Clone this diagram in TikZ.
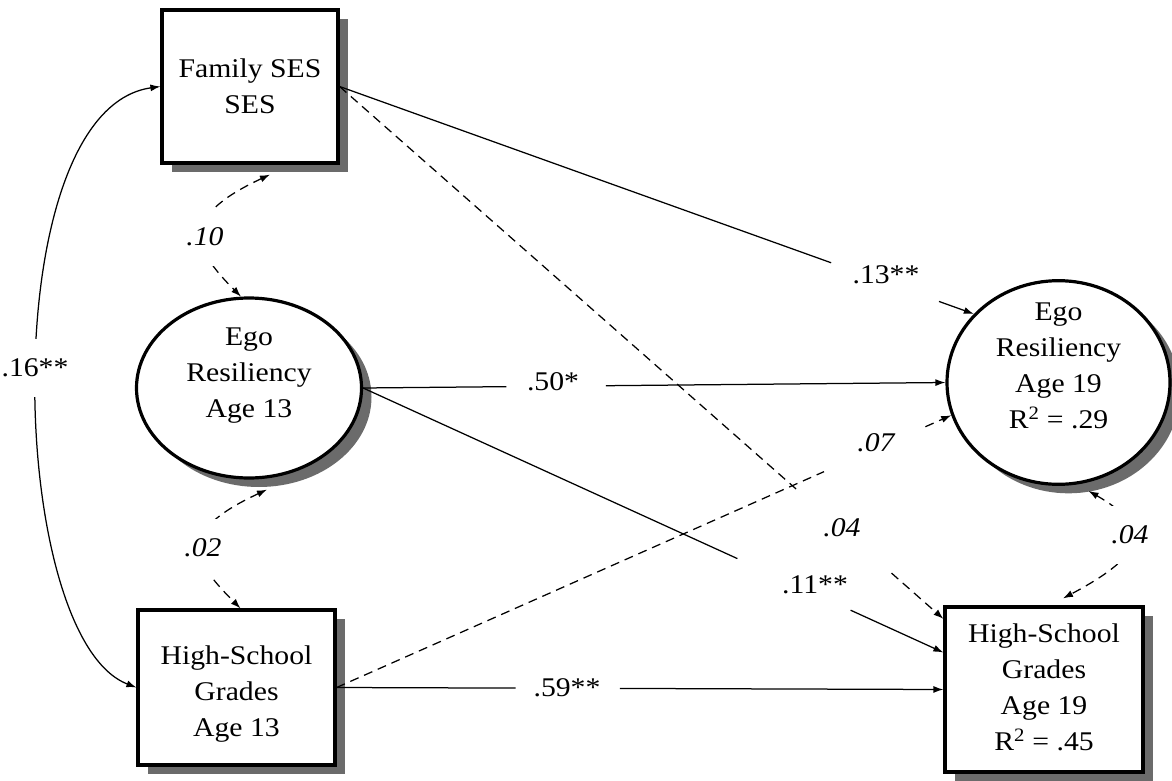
\documentclass[tikz,border=0pt]{standalone}
\usepackage{fontspec}
\setmainfont{Liberation Serif}[FakeStretch=1.1]
\usetikzlibrary{shapes.geometric,shadows,calc,arrows.meta}
\newcommand{\liftbox}[2]{\raisebox{#1}[\height][\depth]{\begin{tabular}{@{}c@{}}#2\end{tabular}}}
\begin{document}
\begin{tikzpicture}[x=1pt,y=-1pt,
  txt/.style={font=\fontsize{27}{36}\selectfont},
  itxt/.style={font=\fontsize{27}{36}\selectfont\itshape},
  shade/.style={drop shadow={shadow xshift=10pt,shadow yshift=-9pt,fill=black!58,opacity=1}},
  box/.style={txt,draw,rectangle,line width=3.2pt,fill=white,shade,inner sep=0pt},
  oval/.style={txt,draw,ellipse,line width=3.2pt,fill=white,shade,inner sep=0pt},
  conn/.style={line width=1.25pt},
  tipend/.style={-{Latex[length=10pt,width=7pt]}},
  tipboth/.style={{Latex[length=10pt,width=7pt]}-{Latex[length=10pt,width=7pt]}},
  dsh/.style={dash pattern=on 9pt off 6pt},
  gaplab/.style={fill=white,inner xsep=3pt,inner ysep=20pt}
]
\useasboundingbox (0,0) rectangle (1172,781);

% nodes
\node[box,minimum width=176pt,minimum height=153pt] (fam) at (250,86.5) {\liftbox{-2pt}{Family SES\\SES}};
\node[oval,minimum width=225pt,minimum height=180pt] (ego13) at (249,388) {\liftbox{14pt}{Ego\\Resiliency\\Age 13}};
\node[box,minimum width=197pt,minimum height=155pt] (hsg13) at (236.5,687.5) {\liftbox{-6pt}{High-School\\Grades\\Age 13}};
\node[oval,minimum width=223pt,minimum height=179pt] (ego19) at (1058.5,382.5) {\liftbox{15pt}{Ego\\Resiliency\\Age 19\\R\textsuperscript{2} = .29}};
\node[box,minimum width=198pt,minimum height=165pt] (hsg19) at (1044,689.5) {\liftbox{0pt}{High-School\\Grades\\Age 19\\R\textsuperscript{2} = .45}};

\coordinate (h19a) at ($(hsg19.north west)!0.28!(hsg19.south west)$);
\coordinate (h19b) at ($(hsg19.north west)!0.08!(hsg19.south west)$);

% Family SES -> Ego 19 (.13**)
\draw[conn] (fam.east) -- ($(fam.east)!0.775!(ego19.141)$);
\draw[conn,tipend] ($(fam.east)!0.945!(ego19.141)$) -- (ego19.141);
\node[txt] (l13) at (886,275) {.13**};

% Ego 13 -> Ego 19 (.50*)
\draw[conn] (ego13.east) -- ($(ego13.east)!0.246!(ego19.west)$);
\draw[conn,tipend] ($(ego13.east)!0.417!(ego19.west)$) -- (ego19.west);
\node[txt] (l50) at (553,382) {.50*};

% Ego 13 -> HSG 19 (.11**)
\draw[conn] (ego13.east) -- ($(ego13.east)!0.645!(h19a)$);
\draw[conn,tipend] ($(ego13.east)!0.84!(h19a)$) -- (h19a);
\node[txt] (l11) at (815,585) {.11**};

% HSG 13 -> HSG 19 (.59**)
\draw[conn] (hsg13.east) -- ($(hsg13.east)!0.295!(hsg19.west)$);
\draw[conn,tipend] ($(hsg13.east)!0.467!(hsg19.west)$) -- (hsg19.west);
\node[txt] (l59) at (567,688) {.59**};

% Family SES -> HSG 19 (.04, dashed)
\draw[conn,dsh] (fam.east) -- ($(fam.east)!0.756!(h19b)$);
\draw[conn,dsh,tipend] ($(fam.east)!0.914!(h19b)$) -- (h19b);
\node[itxt] (l04a) at (842,528) {.04};

% HSG 13 -> Ego 19 (.07, dashed)
\draw[conn,dsh] (hsg13.east) -- ($(hsg13.east)!0.793!(ego19.197)$);
\draw[conn,dsh,tipend] ($(hsg13.east)!0.958!(ego19.197)$) -- (ego19.197);
\node[itxt] (l07) at (876,443) {.07};

% correlations
\draw[conn,tipboth] (fam.west) .. controls +(-167,23.5) and +(-130,-50) .. (hsg13.west);
\node[txt,gaplab] (l16) at (35,368) {.16**};

\draw[conn,dsh,tipboth] ($(fam.south)+(20,10)$) .. controls +(-90,42) and +(-50,-50) .. (ego13.95);
\node[itxt,gaplab] (l10) at (205,237) {.10};

\draw[conn,dsh,tipboth] ($(ego13.south)+(18,10)$) .. controls +(-90,42) and +(-50,-50) .. ($(hsg13.north)+(4,0)$);
\node[itxt,gaplab] (l02) at (203,548) {.02};

\draw[conn,dsh,tipboth] ($(ego19.south)+(30,5)$) .. controls +(70,40) and +(75,-40) .. ($(hsg19.north)+(19,-7)$);
\node[itxt,gaplab] (l04b) at (1130,535) {.04};
\end{tikzpicture}
\end{document}
